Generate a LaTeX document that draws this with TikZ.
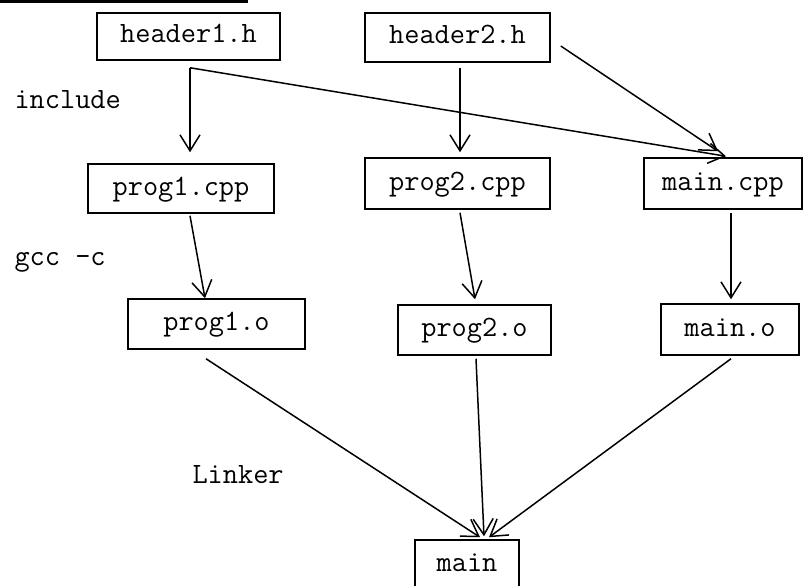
\documentclass[tikz,border=0pt]{standalone}
\usepackage{fontspec}
\usetikzlibrary{arrows.meta}

\tikzset{
  file/.style={draw, line width=1.5pt, rectangle, inner sep=0pt,
    font=\ttfamily\fontsize{29.5}{34}\selectfont,
    text height=16pt, text depth=3pt},
  arr/.style={line width=1.5pt, -{Straight Barb[length=16pt,width=20pt,line width=1.5pt]}},
  stage/.style={anchor=base west, font=\ttfamily\fontsize{29.5}{34}\selectfont}
}

\begin{document}
\begin{tikzpicture}[x=1pt, y=-1pt]
  \useasboundingbox (0,0) rectangle (803,586);

  % heading rule along the top edge
  \fill (0,0) rectangle (248,3);
  \fill (134,2) arc[start angle=180, end angle=360, x radius=7, y radius=2.2] -- cycle;
  \fill (156,2) arc[start angle=180, end angle=360, x radius=7, y radius=2.2] -- cycle;

  % source headers
  \node[file, minimum width=183pt, minimum height=47pt] (h1) at (188.5,36.5) {header1.h};
  \node[file, minimum width=185pt, minimum height=49pt] (h2) at (457.5,37.5) {header2.h};

  % translation units
  \node[file, minimum width=186pt, minimum height=49pt] (p1c) at (181,188.5) {prog1.cpp};
  \node[file, minimum width=185pt, minimum height=51pt] (p2c) at (457.5,183.5) {prog2.cpp};
  \node[file, minimum width=158pt, minimum height=51pt] (mc) at (723,183.5) {main.cpp};

  % object files
  \node[file, minimum width=177pt, minimum height=50pt] (p1o) at (216.5,324) {prog1.o};
  \node[file, minimum width=153pt, minimum height=50pt] (p2o) at (474.5,330) {prog2.o};
  \node[file, minimum width=138pt, minimum height=51pt] (mo) at (730,329.5) {main.o};

  % executable
  \node[file, minimum width=104pt, minimum height=49pt] (mn) at (467,564.5) {main};

  % stage labels
  \node[stage] (lblinc) at (11,108) {include};
  \node[stage] (lblgcc) at (11,265) {gcc -c};
  \node[stage] (lbllnk) at (189,483) {Linker};

  % include step
  \coordinate (h1out) at ([xshift=1.5pt,yshift=-7pt]h1.south);
  \draw[arr] (h1out) -- ([xshift=9pt,yshift=11pt]p1c.north);
  \draw[arr] (h1out) -- ([xshift=3pt,yshift=1pt]mc.north);
  \draw[arr] ([xshift=2.5pt,yshift=-5pt]h2.south) -- ([xshift=2.5pt,yshift=5pt]p2c.north);
  \draw[arr] ([xshift=10pt,yshift=-8.5pt]h2.east) -- ([xshift=-5pt,yshift=6pt]mc.north);

  % compile step
  \draw[arr] ([xshift=9pt,yshift=-2pt]p1c.south) -- ([xshift=-11.5pt]p1o.north);
  \draw[arr] ([xshift=2.5pt,yshift=-3pt]p2c.south) -- ([xshift=0.5pt,yshift=5pt]p2o.north);
  \draw[arr] ([xshift=8pt,yshift=-3pt]mc.south) -- ([xshift=1pt,yshift=4pt]mo.north);

  % link step
  \draw[arr] ([xshift=-10.5pt,yshift=-9pt]p1o.south) -- ([xshift=13pt,yshift=2pt]mn.north);
  \draw[arr] ([xshift=1.5pt,yshift=-3pt]p2o.south) -- ([xshift=17pt,yshift=3pt]mn.north);
  \draw[arr] ([xshift=1pt,yshift=-3pt]mo.south) -- ([xshift=22pt,yshift=2pt]mn.north);
\end{tikzpicture}
\end{document}
